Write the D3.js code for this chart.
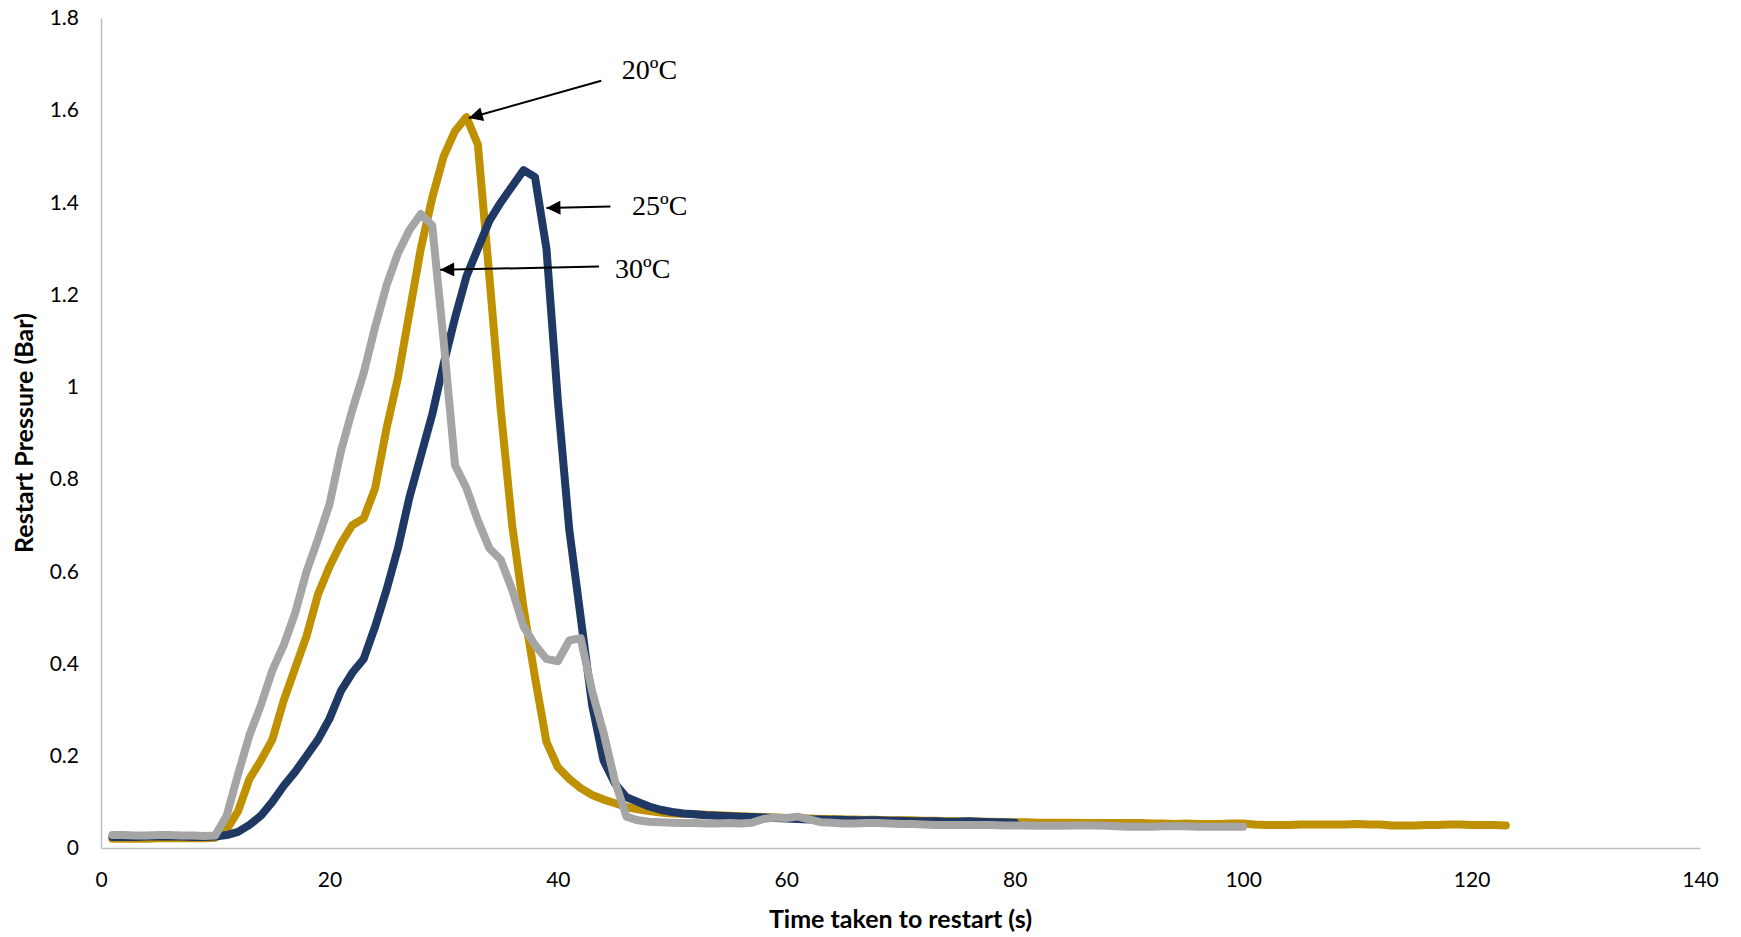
<!DOCTYPE html>
<html>
<head>
<meta charset="utf-8">
<script src="https://cdn.jsdelivr.net/npm/d3@7"></script>
<style>
  body { margin: 0; background: #fff; }
  svg { display: block; }
</style>
</head>
<body>
<svg width="1741" height="937"></svg>
<script>
// restart pressure (bar), one reading per second starting at t = 1 s
var p20 = [0.02,0.02,0.02,0.02,0.021,0.021,0.021,0.021,0.021,0.022,
  0.04,0.08,0.15,0.19,0.235,0.32,0.39,0.46,0.55,0.61,
  0.66,0.70,0.715,0.78,0.91,1.02,1.16,1.30,1.41,1.50,
  1.555,1.585,1.525,1.24,0.95,0.70,0.52,0.37,0.23,0.175,
  0.15,0.13,0.115,0.105,0.097,0.089,0.084,0.08,0.077,0.075,
  0.074,0.073,0.072,0.071,0.07,0.069,0.068,0.067,0.066,0.065,
  0.065,0.064,0.063,0.063,0.062,0.062,0.061,0.061,0.06,0.06,
  0.06,0.059,0.059,0.058,0.058,0.058,0.057,0.057,0.056,0.056,
  0.056,0.055,0.055,0.055,0.055,0.054,0.054,0.054,0.054,0.054,
  0.054,0.053,0.053,0.052,0.053,0.052,0.052,0.052,0.053,0.053,
  0.051,0.05,0.05,0.05,0.051,0.051,0.051,0.051,0.051,0.052,
  0.051,0.051,0.049,0.049,0.049,0.05,0.05,0.051,0.051,0.05,
  0.05,0.05,0.049];

var p25 = [0.024,0.024,0.024,0.025,0.025,0.025,0.025,0.024,0.024,0.025,
  0.028,0.035,0.05,0.07,0.10,0.135,0.165,0.20,0.235,0.28,
  0.34,0.38,0.41,0.48,0.56,0.65,0.76,0.85,0.94,1.05,
  1.15,1.24,1.30,1.36,1.40,1.435,1.47,1.455,1.30,0.97,
  0.69,0.50,0.31,0.19,0.14,0.11,0.10,0.09,0.083,0.078,
  0.075,0.073,0.071,0.07,0.069,0.068,0.067,0.066,0.065,0.064,
  0.063,0.062,0.062,0.061,0.061,0.06,0.06,0.06,0.059,0.059,
  0.058,0.058,0.058,0.057,0.057,0.058,0.057,0.056,0.056,0.055];

var p30 = [0.028,0.028,0.027,0.027,0.028,0.028,0.027,0.027,0.026,0.027,
  0.07,0.16,0.245,0.31,0.385,0.44,0.51,0.60,0.67,0.745,
  0.86,0.95,1.03,1.13,1.22,1.29,1.34,1.375,1.35,1.10,
  0.83,0.78,0.71,0.65,0.625,0.56,0.48,0.44,0.41,0.405,
  0.45,0.455,0.34,0.25,0.145,0.068,0.06,0.057,0.056,0.055,
  0.054,0.054,0.053,0.053,0.054,0.053,0.055,0.063,0.066,0.065,
  0.068,0.062,0.056,0.055,0.053,0.053,0.054,0.054,0.053,0.052,
  0.052,0.051,0.05,0.05,0.05,0.05,0.05,0.05,0.049,0.049,
  0.049,0.048,0.048,0.048,0.049,0.049,0.049,0.048,0.047,0.046,
  0.046,0.046,0.047,0.047,0.047,0.046,0.046,0.046,0.046,0.046];

var xTicks = [0, 20, 40, 60, 80, 100, 120, 140];
var yTicks = [0, 0.2, 0.4, 0.6, 0.8, 1, 1.2, 1.4, 1.6, 1.8];

var series = [
  { name: "20ºC", values: p20, color: "#BF9000" },
  { name: "25ºC", values: p25, color: "#203864" },
  { name: "30ºC", values: p30, color: "#A5A5A5" }
];

// labels with arrows, in data units
var notes = [
  { text: "20ºC", tx: 45.6, ty: 1.688, x0: 43.8, y0: 1.664, x1: 32.2, y1: 1.583 },
  { text: "25ºC", tx: 46.5, ty: 1.395, x0: 44.6, y0: 1.391, x1: 39.0, y1: 1.388 },
  { text: "30ºC", tx: 45.0, ty: 1.258, x0: 43.6, y0: 1.261, x1: 29.7, y1: 1.254 }
];

var svg = d3.select("svg");
var plotLeft = 101, plotRight = 1700, plotTop = 18, plotBottom = 848;

var x = d3.scaleLinear().domain([0, 140]).range([plotLeft, plotRight]);
var y = d3.scaleLinear().domain([0, 1.8]).range([plotBottom, plotTop]);

// axes
svg.append("g")
  .attr("transform", "translate(0," + plotBottom + ")")
  .call(d3.axisBottom(x).tickValues(xTicks).tickSize(0).tickPadding(24).tickFormat(d3.format("d")));
svg.append("g")
  .attr("transform", "translate(" + plotLeft + ",0)")
  .call(d3.axisLeft(y).tickValues(yTicks).tickSize(0).tickPadding(22).tickFormat(function (d) { return +d.toFixed(1); }));

svg.selectAll(".domain").attr("stroke", "#BFBFBF").attr("stroke-width", 1.5);
svg.selectAll(".tick text")
  .style("font-family", "Lato, 'Open Sans', sans-serif")
  .style("font-size", "21px")
  .style("fill", "#000");

svg.append("text")
  .attr("x", (plotLeft + plotRight) / 2)
  .attr("y", 928)
  .attr("text-anchor", "middle")
  .style("font-family", "Lato, 'Open Sans', sans-serif")
  .style("font-weight", "bold")
  .style("font-size", "25px")
  .text("Time taken to restart (s)");

svg.append("text")
  .attr("transform", "translate(33," + y(0.9) + ") rotate(-90)")
  .attr("text-anchor", "middle")
  .style("font-family", "Lato, 'Open Sans', sans-serif")
  .style("font-weight", "bold")
  .style("font-size", "25px")
  .text("Restart Pressure (Bar)");

// curves
var line = d3.line()
  .x(function (d, i) { return x(i + 1); })
  .y(function (d) { return y(d); });

svg.append("g")
  .selectAll("path")
  .data(series)
  .enter()
  .append("path")
  .attr("d", function (d) { return line(d.values); })
  .attr("fill", "none")
  .attr("stroke", function (d) { return d.color; })
  .attr("stroke-width", 8)
  .attr("stroke-linejoin", "round")
  .attr("stroke-linecap", "round");

// arrows
svg.append("defs").append("marker")
  .attr("id", "head")
  .attr("viewBox", "0 0 10 10")
  .attr("refX", 10)
  .attr("refY", 5)
  .attr("markerWidth", 8)
  .attr("markerHeight", 7)
  .attr("markerUnits", "strokeWidth")
  .attr("orient", "auto")
  .append("path")
  .attr("d", "M0,0 L10,5 L0,10 z")
  .attr("fill", "#000");

var ann = svg.append("g");
ann.selectAll("line")
  .data(notes)
  .enter()
  .append("line")
  .attr("x1", function (d) { return x(d.x0); })
  .attr("y1", function (d) { return y(d.y0); })
  .attr("x2", function (d) { return x(d.x1); })
  .attr("y2", function (d) { return y(d.y1); })
  .attr("stroke", "#000")
  .attr("stroke-width", 2)
  .attr("marker-end", "url(#head)");

ann.selectAll("text")
  .data(notes)
  .enter()
  .append("text")
  .attr("x", function (d) { return x(d.tx); })
  .attr("y", function (d) { return y(d.ty); })
  .attr("dy", "0.35em")
  .style("font-family", "'Liberation Serif', 'Times New Roman', serif")
  .style("font-size", "28px")
  .text(function (d) { return d.text; });
</script>
</body>
</html>
